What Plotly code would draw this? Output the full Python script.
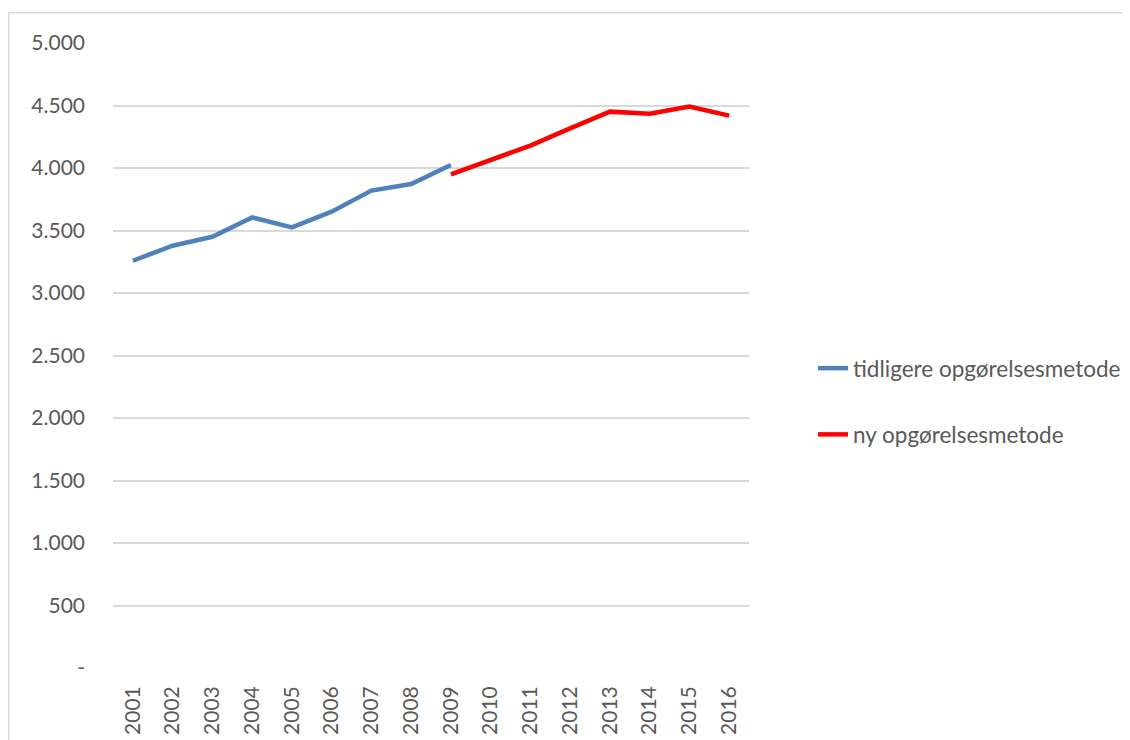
import plotly.graph_objects as go

years = list(range(2001, 2017))
old_years = years[:9]
old_values = [3258, 3378, 3450, 3605, 3525, 3651, 3819, 3872, 4024]
new_years = years[8:]
new_values = [3949, 4064, 4179, 4317, 4451, 4435, 4491, 4419]
y_tickvals = [0, 500, 1000, 1500, 2000, 2500, 3000, 3500, 4000, 4500, 5000]
y_ticktext = ["-", "500", "1.000", "1.500", "2.000", "2.500", "3.000", "3.500", "4.000", "4.500", "5.000"]
names = ["tidligere opgørelsesmetode", "ny opgørelsesmetode"]

FONT = "Lato, 'Open Sans', sans-serif"
GREY = "#595959"

fig = go.Figure()
fig.add_trace(go.Scatter(x=old_years, y=old_values, mode="lines", name=names[0],
                         legendgroup="a",
                         line=dict(color="#4F81BD", width=4.5)))
fig.add_trace(go.Scatter(x=new_years, y=new_values, mode="lines", name=names[1],
                         legendgroup="b",
                         line=dict(color="#FF0000", width=4.5)))

# page has an 8px body margin; compensate so the plot lands at page pixels
OFF = 8
W, H = 1130, 740
PL, PR, PT, PB = 113, 749, 43, 668  # desired plot area in page pixels
L = PL - OFF
T = PT - OFF
R = W - (PR - OFF)
B = H - (PB - OFF)
pw, ph = PR - PL, PB - PT

def px(x):
    return (x - PL) / pw

def py(y):
    return (PB - y) / ph

fig.add_shape(type="rect", xref="paper", yref="paper",
              x0=px(8.75), x1=px(1129), y0=py(12.75), y1=py(760),
              line=dict(color="#d9d9d9", width=1.5), layer="below")

fig.update_layout(
    width=W, height=H,
    margin=dict(l=L, r=R, t=T, b=B),
    paper_bgcolor="white", plot_bgcolor="white",
    font=dict(family=FONT, color=GREY, size=21),
    showlegend=True,
    legend=dict(x=px(813), y=py(347), xanchor="left", yanchor="top",
                font=dict(size=22.5, color=GREY),
                tracegroupgap=34, bgcolor="rgba(0,0,0,0)",
                traceorder="grouped"),
    xaxis=dict(range=[2000.5, 2016.5], tickmode="array", tickvals=years,
               ticktext=[str(y) for y in years], tickangle=-90,
               showgrid=False, zeroline=False, showline=False,
               tickfont=dict(size=21, color=GREY), ticklabelstandoff=13),
    yaxis=dict(range=[0, 5000], tickmode="array", tickvals=y_tickvals,
               ticktext=y_ticktext, showgrid=True, gridcolor="#d9d9d9",
               gridwidth=1.5, zeroline=False, showline=False,
               tickfont=dict(size=21, color=GREY), ticklabelstandoff=27),
)

fig.write_html("out.html")
